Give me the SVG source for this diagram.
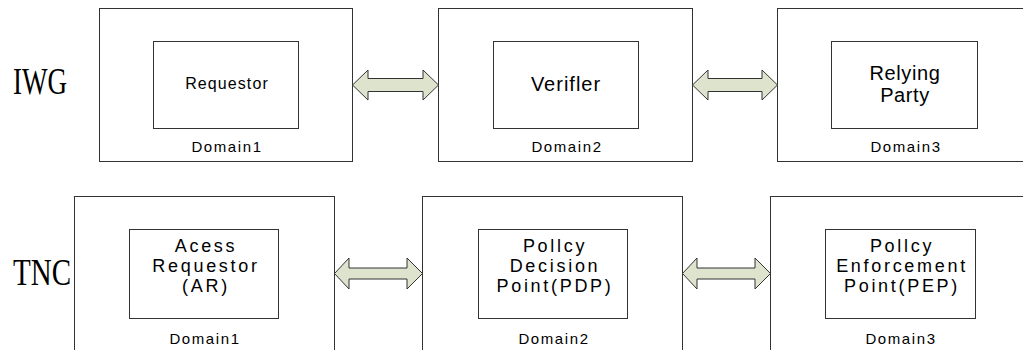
<svg xmlns="http://www.w3.org/2000/svg" width="1023" height="350" viewBox="0 0 1023 350">
<style>
.outer{fill:#fff;stroke:#333;stroke-width:1}
.inner{fill:#fff;stroke:#333;stroke-width:1}
.dom{font-family:"Liberation Sans",Arial,sans-serif;font-size:15px;letter-spacing:1.6px;text-anchor:middle;fill:#000}
.lbl{font-family:"Liberation Sans",Arial,sans-serif;font-size:18px;letter-spacing:2.7px;text-anchor:middle;fill:#000}
.side{font-family:"Liberation Serif","Times New Roman",serif;font-size:37px;fill:#000}
.arr{fill:#dde3cc;stroke:#333;stroke-width:1}
</style>
<rect width="1023" height="350" fill="#fff"/>
<text class="side" x="13" y="94" textLength="54" lengthAdjust="spacingAndGlyphs">IWG</text>
<text class="side" x="13" y="285" textLength="58" lengthAdjust="spacingAndGlyphs">TNC</text>
<g id="iwg-domain1">
<rect class="outer" x="99.5" y="8.5" width="253" height="153"/>
<rect class="inner" x="153.5" y="41.5" width="145" height="87"/>
<text class="dom" x="227" y="89" style="font-size:16px;letter-spacing:1.1px">Requestor</text>
<text class="dom" x="227" y="152">Domain1</text>
</g>
<g id="iwg-domain2">
<rect class="outer" x="438.5" y="8.5" width="254" height="153"/>
<rect class="inner" x="493.5" y="41.5" width="145" height="87"/>
<text class="lbl" x="566" y="91" style="font-size:20px;letter-spacing:1px">Verifler</text>
<text class="dom" x="567" y="152">Domain2</text>
</g>
<g id="iwg-domain3">
<rect class="outer" x="777.5" y="8.5" width="260" height="153"/>
<rect class="inner" x="831.5" y="41.5" width="146" height="87"/>
<text class="lbl" style="font-size:20px;letter-spacing:0.6px" x="905"><tspan x="905" y="80">Relying</tspan><tspan x="905" y="102">Party</tspan></text>
<text class="dom" x="906" y="152">Domain3</text>
</g>
<g id="tnc-domain1">
<rect class="outer" x="74.5" y="196.5" width="260" height="170"/>
<rect class="inner" x="129.5" y="229.5" width="149" height="89"/>
<text class="lbl" x="206"><tspan x="206" y="252">Acess</tspan><tspan x="206" y="272">Requestor</tspan><tspan x="206" y="292">(AR)</tspan></text>
<text class="dom" x="205" y="344">Domain1</text>
</g>
<g id="tnc-domain2">
<rect class="outer" x="422.5" y="196.5" width="260" height="170"/>
<rect class="inner" x="478.5" y="229.5" width="149" height="89"/>
<text class="lbl" x="555"><tspan x="555" y="252">Pollcy</tspan><tspan x="555" y="272">Decision</tspan><tspan x="555" y="292">Point(PDP)</tspan></text>
<text class="dom" x="554" y="344">Domain2</text>
</g>
<g id="tnc-domain3">
<rect class="outer" x="770.5" y="196.5" width="270" height="170"/>
<rect class="inner" x="825.5" y="229.5" width="150" height="89"/>
<text class="lbl" x="902"><tspan x="902" y="252">Pollcy</tspan><tspan x="902" y="272">Enforcement</tspan><tspan x="902" y="292">Point(PEP)</tspan></text>
<text class="dom" x="901" y="344">Domain3</text>
</g>
<g id="connectors">
<polygon class="arr" points="352.5,85 368,70 368,78.5 423,78.5 423,70 438.5,85 423,100 423,91.5 368,91.5 368,100"/>
<polygon class="arr" points="692.5,85 708,70 708,78.5 762,78.5 762,70 777.5,85 762,100 762,91.5 708,91.5 708,100"/>
<polygon class="arr" points="334.5,273.5 349,258 349,268 407,268 407,258 422.5,273.5 407,289 407,279 349,279 349,289"/>
<polygon class="arr" points="682.5,273.5 697,258 697,268 755,268 755,258 770.5,273.5 755,289 755,279 697,279 697,289"/>
</g>
</svg>
